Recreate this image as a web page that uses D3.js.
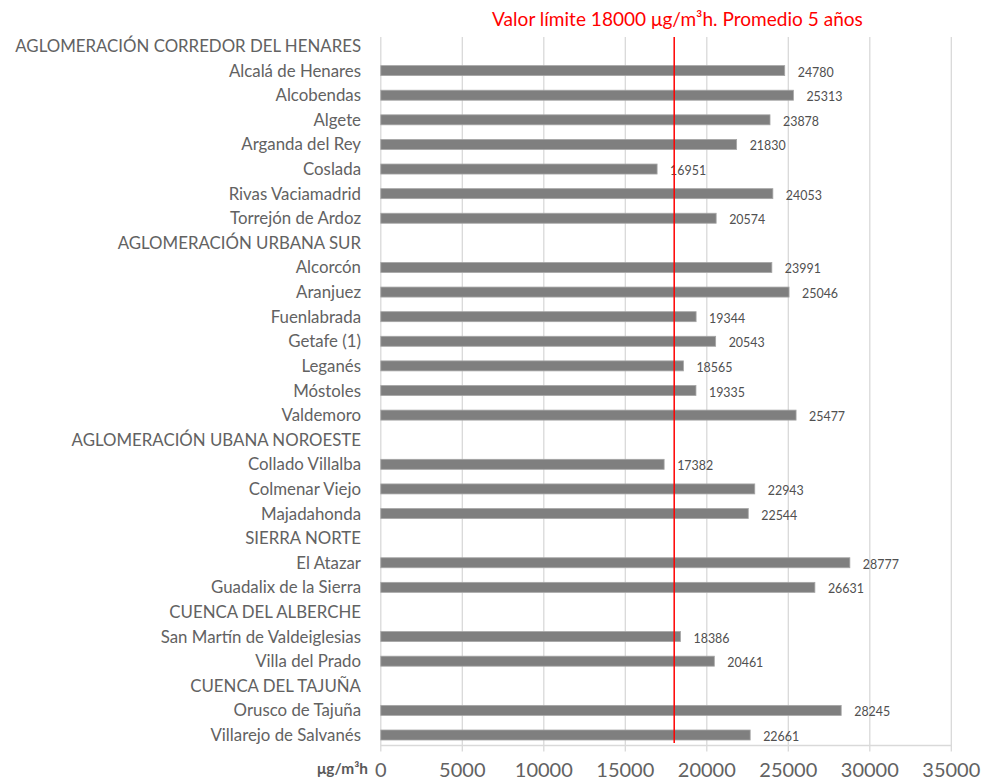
<!DOCTYPE html>
<html><head><meta charset="utf-8">
<script src="https://cdn.jsdelivr.net/npm/d3@7"></script>
<style>body{margin:0;background:#fff;}svg{display:block;}</style>
</head><body>
<svg id="c" width="982" height="782"></svg>
<script>
const categories = [
  "AGLOMERACIÓN CORREDOR DEL HENARES","Alcalá de Henares","Alcobendas","Algete","Arganda del Rey","Coslada","Rivas Vaciamadrid","Torrejón de Ardoz",
  "AGLOMERACIÓN URBANA SUR","Alcorcón","Aranjuez","Fuenlabrada","Getafe (1)","Leganés","Móstoles","Valdemoro",
  "AGLOMERACIÓN UBANA NOROESTE","Collado Villalba","Colmenar Viejo","Majadahonda",
  "SIERRA NORTE","El Atazar","Guadalix de la Sierra",
  "CUENCA DEL ALBERCHE","San Martín de Valdeiglesias","Villa del Prado",
  "CUENCA DEL TAJUÑA","Orusco de Tajuña","Villarejo de Salvanés"
];
const values = [
  null,24780,25313,23878,21830,16951,24053,20574,
  null,23991,25046,19344,20543,18565,19335,25477,
  null,17382,22943,22544,
  null,28777,26631,
  null,18386,20461,
  null,28245,22661
];
const xTicks = [0,5000,10000,15000,20000,25000,30000,35000];
const limitValue = 18000;
const limitTitle = "Valor límite 18000 μg/m³h. Promedio 5 años";
const unitLabel = "μg/m³h";

const svg = d3.select("#c");
const font = "Lato, sans-serif";

// size a text so that a sample string reaches a target width
function fitSize(sample, target, weight) {
  const t = svg.append("text").attr("font-family",font).attr("font-size",100)
    .attr("font-weight",weight||"normal").text(sample);
  const w = t.node().getComputedTextLength();
  t.remove();
  return 100*target/w;
}
const catSize = fitSize(categories[0], 346);
const valSize = fitSize("24780", 36);
const tickSize = fitSize("35000", 58);
const titleSize = fitSize(limitTitle, 371);
const unitSize = fitSize(unitLabel, 51, "bold");

const x = d3.scaleLinear().domain([0,35000]).range([380.8,951.3]);
const step = (735-46)/(categories.length-1);
const y = d3.scaleBand().domain(categories).range([46-step/2, 735+step/2]).paddingInner(0.6).paddingOuter(0.3);
const yTop = 37, yAxis = 745.5;

// gridlines + ticks
svg.append("g").selectAll("line").data(xTicks).join("line")
  .attr("x1",d=>x(d)).attr("x2",d=>x(d)).attr("y1",yTop).attr("y2",yAxis+6)
  .attr("stroke","#d9d9d9").attr("stroke-width",1.3);
// horizontal value axis line
svg.append("line").attr("x1",x(0)).attr("x2",x(35000)).attr("y1",yAxis).attr("y2",yAxis)
  .attr("stroke","#d9d9d9").attr("stroke-width",1.3);

const data = categories.map((c,i)=>({c, v: values[i]})).filter(d=>d.v!=null);
const barH = 10;
svg.append("g").selectAll("rect").data(data).join("rect")
  .attr("x",x(0)).attr("y",d=>y(d.c)+y.bandwidth()/2-barH/2)
  .attr("width",d=>x(d.v)-x(0)).attr("height",barH)
  .attr("fill","#7f7f7f").attr("stroke","#a6a6a6").attr("stroke-width",0.8);

// value labels
svg.append("g").selectAll("text").data(data).join("text")
  .attr("x",d=>x(d.v)+13).attr("y",d=>y(d.c)+y.bandwidth()/2+6)
  .attr("font-family",font).attr("font-size",valSize).attr("fill","#505050")
  .text(d=>d.v);

// category labels
svg.append("g").selectAll("text").data(categories).join("text")
  .attr("x",361).attr("y",d=>y(d)+y.bandwidth()/2+6)
  .attr("text-anchor","end").attr("font-family",font).attr("font-size",catSize).attr("fill","#626262")
  .text(d=>d);

// x tick labels
svg.append("g").selectAll("text").data(xTicks).join("text")
  .attr("x",d=>x(d)).attr("y",777)
  .attr("text-anchor","middle").attr("font-family",font).attr("font-size",tickSize).attr("fill","#626262")
  .text(d=>d);

// unit label
svg.append("text").attr("x",368).attr("y",774).attr("text-anchor","end")
  .attr("font-family",font).attr("font-size",unitSize).attr("font-weight","bold").attr("fill","#595959")
  .text(unitLabel);

// limit line
svg.append("line").attr("x1",x(limitValue)).attr("x2",x(limitValue)).attr("y1",yTop).attr("y2",743)
  .attr("stroke","#ff0000").attr("stroke-width",1.5);
svg.append("text").attr("x",677.5).attr("y",26).attr("text-anchor","middle")
  .attr("font-family",font).attr("font-size",titleSize).attr("fill","#ff0000")
  .text(limitTitle);
</script>
</body></html>
